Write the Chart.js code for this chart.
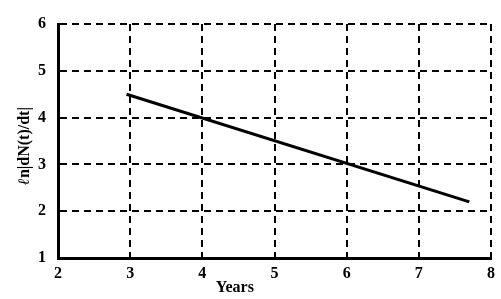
<!DOCTYPE html>
<html>
<head>
<meta charset="utf-8">
<script src="https://cdn.jsdelivr.net/npm/chart.js@4/dist/chart.umd.min.js"></script>
<style>
    html, body { margin: 0; padding: 0; background: #ffffff; }
    #wrap { width: 501px; height: 299px; }
</style>
</head>
<body>
<div id="wrap"><canvas id="lnChart" width="501" height="299"></canvas></div>
<script>
// ===== DATA =====
const years = [2.95, 7.7];
const lnRate = [4.5, 2.2];
const xTicks = [2, 3, 4, 5, 6, 7, 8];
const yTicks = [1, 2, 3, 4, 5, 6];
const xTitle = "Years";
const yTitleLead = "ℓ";
const yTitle = "n|dN(t)/dt|";

const serifBold = { family: "'Liberation Serif', 'Times New Roman', serif", size: 16, weight: "bold" };

// axis titles drawn by hand so they sit where the original puts them
const titlePlugin = {
    id: "titles",
    afterDraw(chart) {
        const ctx = chart.ctx;
        const xs = chart.scales.x;
        const area = chart.chartArea;
        ctx.save();
        ctx.fillStyle = "#000";
        ctx.font = "bold 16px 'Liberation Serif', serif";
        ctx.textAlign = "center";
        ctx.textBaseline = "middle";
        ctx.fillText(xTitle, xs.getPixelForValue(4.45), 288);

        // rotated y title, the script l in italic
        const leadFont = "bold italic 16px 'DejaVu Serif', serif";
        const restFont = "bold 16px 'Liberation Serif', serif";
        ctx.font = leadFont;
        const wLead = ctx.measureText(yTitleLead).width;
        ctx.font = restFont;
        const wRest = ctx.measureText(yTitle).width;
        const total = wLead + wRest;

        ctx.translate(25, 146);
        ctx.rotate(-Math.PI / 2);
        ctx.textAlign = "left";
        ctx.font = leadFont;
        ctx.fillText(yTitleLead, -total / 2, 0);
        ctx.font = restFont;
        ctx.fillText(yTitle, -total / 2 + wLead, 0);
        ctx.restore();
    }
};

const ctx = document.getElementById("lnChart").getContext("2d");

new Chart(ctx, {
    type: "scatter",
    data: {
        datasets: [{
            data: years.map((x, i) => ({ x: x, y: lnRate[i] })),
            showLine: true,
            borderColor: "#000000",
            borderWidth: 3,
            pointRadius: 0,
            fill: false
        }]
    },
    options: {
        responsive: false,
        animation: false,
        layout: { padding: { top: 24, right: 6, bottom: 0, left: 0 } },
        plugins: {
            legend: { display: false },
            tooltip: { enabled: false }
        },
        scales: {
            x: {
                type: "linear",
                min: 2,
                max: 8,
                afterBuildTicks: s => { s.ticks = xTicks.map(v => ({ value: v })); },
                afterFit: s => { s.height = 41; },
                ticks: { color: "#000", font: serifBold, padding: 6 },
                grid: { color: "#000", lineWidth: 2, drawTicks: false },
                // in v4 border.dash dashes the grid lines, the axis line stays solid
                border: { display: true, color: "#000", width: 3, dash: [7, 5] }
            },
            y: {
                type: "linear",
                min: 1,
                max: 6,
                afterBuildTicks: s => { s.ticks = yTicks.map(v => ({ value: v })); },
                afterFit: s => { s.width = 58; },
                ticks: { color: "#000", font: serifBold, padding: 12 },
                grid: { color: "#000", lineWidth: 2, drawTicks: false },
                border: { display: true, color: "#000", width: 3, dash: [7, 5] }
            }
        }
    },
    plugins: [titlePlugin]
});
</script>
</body>
</html>
